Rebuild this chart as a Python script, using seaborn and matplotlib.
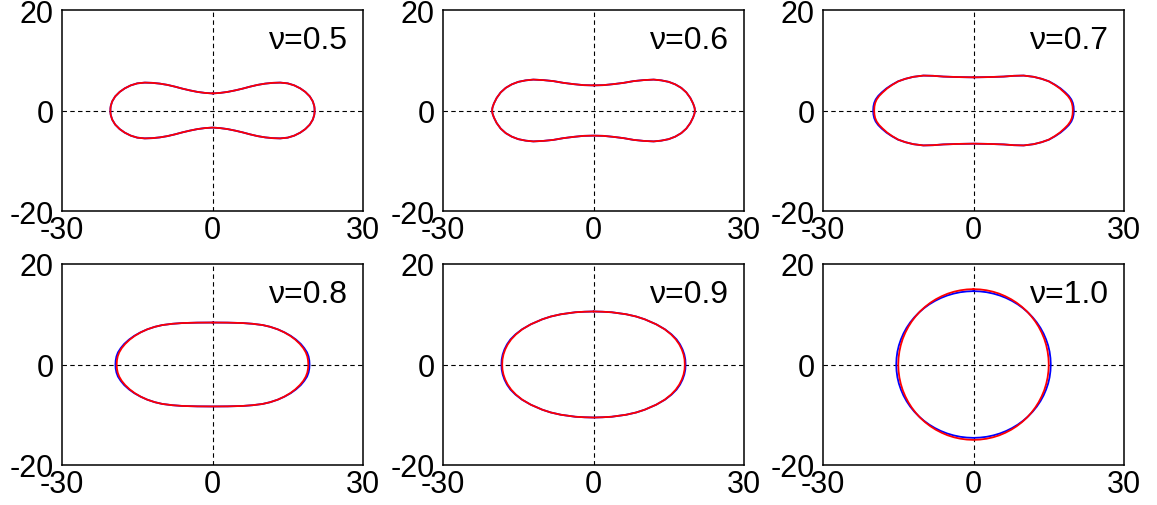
import numpy as np
import pandas as pd
import seaborn as sns
import matplotlib.pyplot as plt

# upper-right quadrant of each contour (x from 0 to the tip)
nu_labels = ["ν=0.5", "ν=0.6", "ν=0.7", "ν=0.8", "ν=0.9", "ν=1.0"]

nu05_x = [0, 1.5, 3, 4.5, 6, 7.5, 9, 10.5, 12, 13.5, 15, 16.3, 17.5, 18.5, 19.4, 20.0, 20.28, 20.34, 20.35]
nu05_y = [3.4, 3.5, 3.7, 4.0, 4.35, 4.75, 5.1, 5.35, 5.5, 5.55, 5.4, 5.0, 4.4, 3.7, 2.8, 1.8, 0.9, 0.45, 0]

nu06_x = [0, 2, 4, 6, 8, 10, 12, 13.5, 15, 16.3, 17.5, 18.5, 19.3, 19.85, 20.1, 20.18, 20.2]
nu06_y = [5.0, 5.05, 5.25, 5.5, 5.85, 6.05, 6.15, 6.0, 5.7, 5.2, 4.5, 3.6, 2.5, 1.4, 0.7, 0.35, 0]

nu07_x = [0, 3, 6, 8, 10, 12.0, 13.6, 15.0, 16.2, 17.2, 18.1, 18.8, 19.3, 19.6, 19.75, 19.8]
nu07_y = [6.6, 6.65, 6.75, 6.9, 6.95, 6.7, 6.3, 5.8, 5.1, 4.4, 3.6, 2.9, 2.2, 1.5, 0.8, 0]

nu08_x = [0, 3, 6, 8, 10, 11.5, 13.0, 14.3, 15.5, 16.5, 17.4, 18.1, 18.6, 18.9, 19.05, 19.1]
nu08_y = [8.35, 8.33, 8.25, 8.1, 7.85, 7.5, 7.0, 6.4, 5.7, 4.95, 4.1, 3.25, 2.4, 1.6, 0.8, 0]

nu09_x = [0, 1.8, 3.6, 6.5, 8.5, 10.2, 12.5, 14.2, 15.45, 16.4, 17.1, 17.6, 17.95, 18.15, 18.2]
nu09_y = [10.55, 10.5, 10.4, 10.0, 9.55, 9.0, 8.0, 7.0, 6.0, 5.0, 4.0, 3.0, 2.0, 1.0, 0]

nu10_x = [0, 1.31, 2.6, 3.88, 5.13, 6.34, 7.5, 8.6, 9.64, 10.61, 11.49, 12.29, 12.99,
          13.59, 14.1, 14.49, 14.77, 14.94, 15.0]
nu10_y = [15.0, 14.94, 14.77, 14.49, 14.1, 13.59, 12.99, 12.29, 11.49, 10.61, 9.64, 8.6,
          7.5, 6.34, 5.13, 3.88, 2.6, 1.31, 0]

# blue curve where it separates from the red one
nu07_bx = [0, 3, 6, 8, 10, 12.0, 13.6, 15.05, 16.3, 17.35, 18.3, 19.0, 19.5, 19.8, 19.95, 20.0]
nu08_bx = [0, 3, 6, 8, 10, 11.5, 13.0, 14.35, 15.6, 16.65, 17.6, 18.3, 18.85, 19.15, 19.3, 19.35]
nu09_bx = [0, 1.8, 3.6, 6.5, 8.5, 10.2, 12.5, 14.25, 15.55, 16.55, 17.25, 17.75, 18.1, 18.3, 18.35]
nu10_bx = [0, 1.34, 2.67, 3.99, 5.27, 6.51, 7.7, 8.83, 9.9, 10.89, 11.8, 12.62, 13.34,
           13.96, 14.47, 14.88, 15.17, 15.34, 15.4]
nu10_by = [14.6, 14.54, 14.38, 14.1, 13.72, 13.23, 12.64, 11.96, 11.18, 10.32, 9.38, 8.37,
           7.3, 6.17, 4.99, 3.78, 2.54, 1.27, 0]

red_x = [nu05_x, nu06_x, nu07_x, nu08_x, nu09_x, nu10_x]
red_y = [nu05_y, nu06_y, nu07_y, nu08_y, nu09_y, nu10_y]
blue_x = [nu05_x, nu06_x, nu07_bx, nu08_bx, nu09_bx, nu10_bx]
blue_y = [nu05_y, nu06_y, nu07_y, nu08_y, nu09_y, nu10_by]


def full_contour(qx, qy):
    # mirror the quadrant into a closed curve
    qx = np.asarray(qx, float)
    qy = np.asarray(qy, float)
    x = np.concatenate([qx, qx[::-1], -qx, -qx[::-1]])
    y = np.concatenate([qy, -qy[::-1], -qy, qy[::-1]])
    return pd.DataFrame({"x": x, "y": y})


sns.set_style("ticks")
plt.rcParams["font.family"] = ["Liberation Sans", "DejaVu Sans"]

W, H = 1157, 506
fig = plt.figure(figsize=(W / 100, H / 100), dpi=100)

col_left = [62, 443, 823]
row_top = [11, 265]
aw, ah = 301, 201

for i in range(6):
    r, c = divmod(i, 3)
    ax = fig.add_axes([col_left[c] / W, 1 - (row_top[r] + ah) / H, aw / W, ah / H])

    ax.axvline(0, color="black", lw=0.8, ls=(0, (4, 3)), zorder=1)
    ax.axhline(0, color="black", lw=0.8, ls=(0, (4, 3)), zorder=1)

    sns.lineplot(data=full_contour(blue_x[i], blue_y[i]), x="x", y="y", sort=False,
                 estimator=None, color="blue", lw=1.3, ax=ax, zorder=2)
    sns.lineplot(data=full_contour(red_x[i], red_y[i]), x="x", y="y", sort=False,
                 estimator=None, color="red", lw=1.3, ax=ax, zorder=3)

    ax.set_xlim(-30, 30)
    ax.set_ylim(-20, 20)
    ax.set_xticks([-30, 0, 30])
    ax.set_yticks([-20, 0, 20])
    ax.set_xticklabels(["-30", "0", "30"])
    ax.set_yticklabels(["-20", "0", "20"])
    ax.tick_params(axis="both", length=0, labelsize=22, colors="black")
    ax.tick_params(axis="x", pad=3)
    ax.tick_params(axis="y", pad=6)
    ax.set_xlabel("")
    ax.set_ylabel("")
    for s in ax.spines.values():
        s.set_color("black")
        s.set_linewidth(1.1)

    ax.text(0.95, 0.81, nu_labels[i], transform=ax.transAxes, ha="right",
            va="baseline", fontsize=23, color="black")

fig.savefig("out.png", dpi=100)
